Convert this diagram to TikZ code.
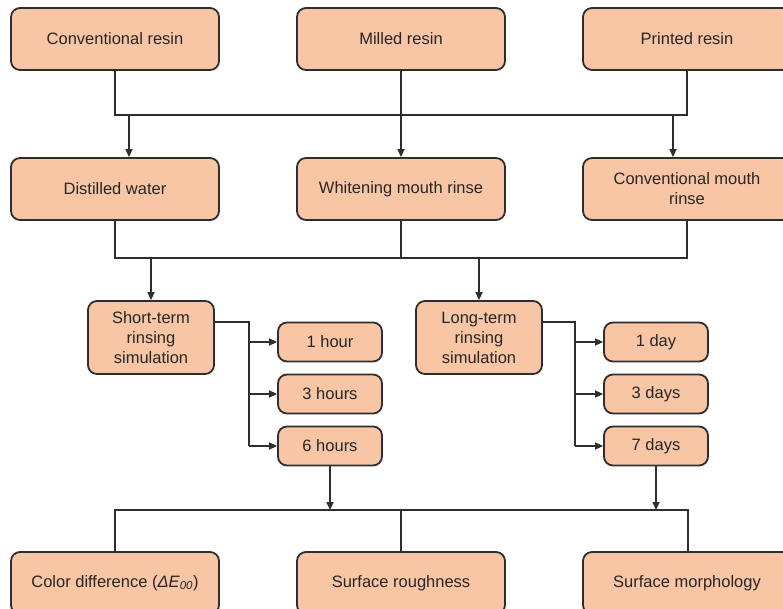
\documentclass[tikz,border=0pt]{standalone}
\usepackage{fontspec}
\setmainfont{Liberation Sans}
\usetikzlibrary{arrows.meta}
\definecolor{boxfill}{HTML}{F8C5A5}
\definecolor{lineclr}{HTML}{2E2E2E}
\definecolor{txtclr}{HTML}{262626}
\begin{document}
\begin{tikzpicture}[x=1pt,y=-1pt,
  box/.style={draw=lineclr, fill=boxfill, line width=1.8pt, rounded corners=9pt,
    inner sep=0pt, align=center, text=txtclr,
    font=\fontsize{16.5}{20}\selectfont},
  big/.style={box, minimum width=208pt, minimum height=62pt},
  sim/.style={box, minimum width=126pt, minimum height=73pt},
  small/.style={box, minimum width=104pt, minimum height=39pt},
  conn/.style={draw=lineclr, line width=1.6pt},
  arr/.style={conn, -{Triangle[length=8pt,width=7pt]}}]
\useasboundingbox (0,0) rectangle (783,609);
\clip (0,0) rectangle (783,609);
\fill[white] (0,0) rectangle (783,609);
% top row
\node[big] (cr) at (115,39) {Conventional resin};
\node[big] (mr) at (401,39) {Milled resin};
\node[big] (pr) at (687,39) {Printed resin};
% second row
\node[big] (dw) at (115,189) {Distilled water};
\node[big] (wm) at (401,189) {Whitening mouth rinse};
\node[big] (cm) at (687,189) {Conventional mouth\\rinse};
% simulations
\node[sim] (st) at (151,337.5) {Short-term\\rinsing\\simulation};
\node[sim] (lt) at (479,337.5) {Long-term\\rinsing\\simulation};
\node[small] (h1) at (330,342) {1 hour};
\node[small] (h3) at (330,394) {3 hours};
\node[small] (h6) at (330,446) {6 hours};
\node[small] (d1) at (656,342) {1 day};
\node[small] (d3) at (656,394) {3 days};
\node[small] (d7) at (656,446) {7 days};
% bottom row
\node[big] (cd) at (115,583) {Color difference (\textit{ΔE}\textsubscript{\textit{00}})};
\node[big] (sr) at (401,583) {Surface roughness};
\node[big] (sm) at (687,583) {Surface morphology};
% bus 1
\coordinate (b1l) at (115,115);
\coordinate (b1r) at (687,115);
\draw[conn] (cr.south) -- (b1l) -- (b1r) -- (pr.south);
\draw[arr] (129,115) -- (dw.north -| 129,0);
\draw[arr] (mr.south) -- (wm.north);
\draw[arr] (673,115) -- (cm.north -| 673,0);
% bus 2
\coordinate (b2l) at (115,258);
\coordinate (b2r) at (687,258);
\draw[conn] (dw.south) -- (b2l) -- (b2r) -- (cm.south);
\draw[conn] (wm.south) -- (401,258);
\draw[arr] (st.north |- b2l) -- (st.north);
\draw[arr] (lt.north |- b2l) -- (lt.north);
% short-term branches
\coordinate (sj) at (249,322);
\draw[conn] (st.east |- sj) -- (sj) -- (249,446);
\draw[arr] (249,342) -- (h1.west);
\draw[arr] (249,394) -- (h3.west);
\draw[arr] (249,446) -- (h6.west);
% long-term branches
\coordinate (lj) at (575,322);
\draw[conn] (lt.east |- lj) -- (lj) -- (575,446);
\draw[arr] (575,342) -- (d1.west);
\draw[arr] (575,394) -- (d3.west);
\draw[arr] (575,446) -- (d7.west);
% bus 3
\coordinate (b3l) at (115,510);
\coordinate (b3r) at (688,510);
\draw[arr] (h6.south) -- (h6.south |- b3l);
\draw[arr] (d7.south) -- (d7.south |- b3l);
\draw[conn] (cd.north) -- (b3l) -- (b3r) -- (sm.north -| b3r);
\draw[conn] (sr.north) -- (401,510);
\end{tikzpicture}
\end{document}
